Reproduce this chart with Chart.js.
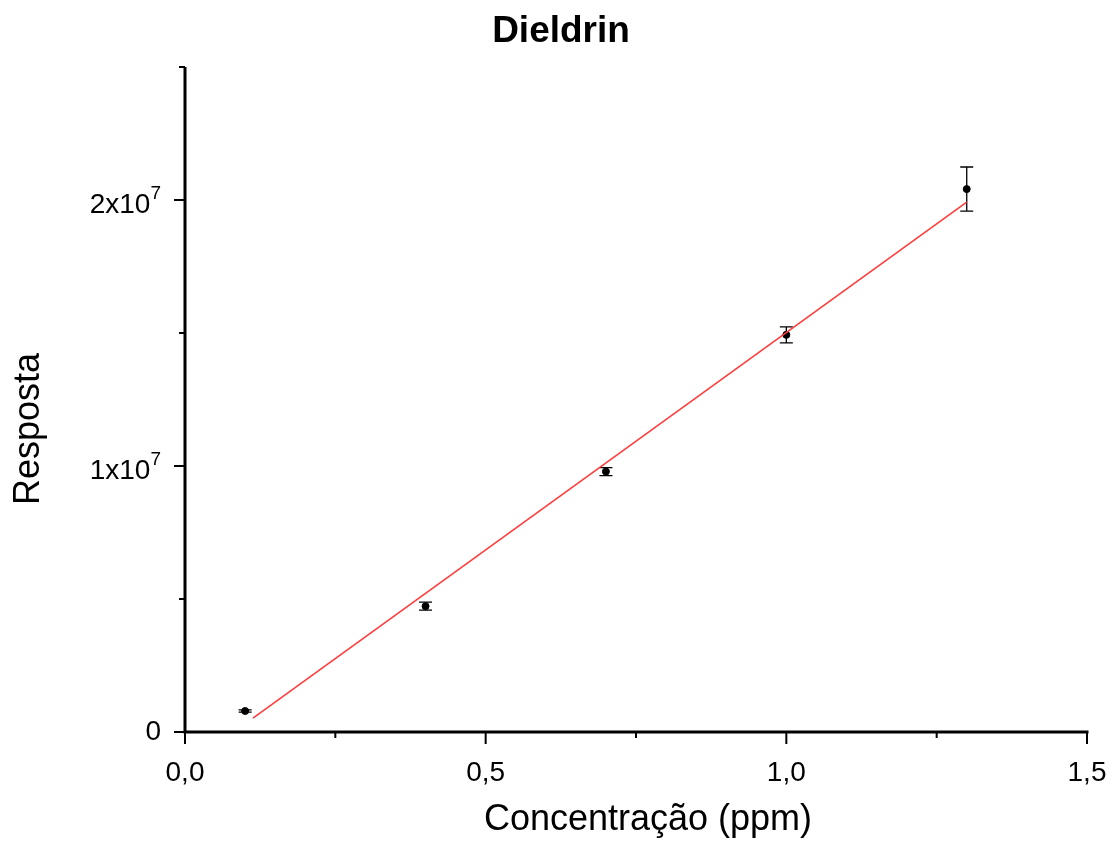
<!DOCTYPE html>
<html>
<head>
<meta charset="utf-8">
<script src="https://cdn.jsdelivr.net/npm/chart.js@4"></script>
<style>
  html, body { margin: 0; padding: 0; background: #fff; }
  #wrap { width: 1111px; height: 843px; }
</style>
</head>
<body>
<div id="wrap"><canvas id="c" width="1111" height="843"></canvas></div>
<script>
// measured points (ppm vs response)
const conc = [0.1, 0.4, 0.7, 1.0, 1.3]
const resp = [7.9e5, 4.73e6, 9.79e6, 1.493e7, 2.041e7]
const respErr = [4e4, 1.5e5, 1.5e5, 3e5, 8.3e5]

// linear fit line ends
const fitX = [0.113, 1.3]
const fitY = [5.2e5, 1.992e7]

const xTicks = [0, 0.5, 1.0, 1.5]
const xMinor = [0.25, 0.75, 1.25]
const yTicks = [0, 1e7, 2e7]
const yMinor = [5e6, 1.5e7, 2.5e7]

const font = "'Liberation Sans', Arial, sans-serif"

const fmtX = (v) => v.toFixed(1).replace('.', ',')

// draws axes, ticks, labels, error bars, titles
const decor = {
  id: 'decor',
  beforeDatasetsDraw(chart) {
    const ctx = chart.ctx
    const x = chart.scales.x, y = chart.scales.y
    ctx.save()
    ctx.strokeStyle = '#000'
    ctx.lineWidth = 1.3
    conc.forEach((c, i) => {
      const px = x.getPixelForValue(c)
      const top = y.getPixelForValue(resp[i] + respErr[i])
      const bot = y.getPixelForValue(resp[i] - respErr[i])
      ctx.beginPath()
      ctx.moveTo(px, top); ctx.lineTo(px, bot)
      ctx.moveTo(px - 6.5, top); ctx.lineTo(px + 6.5, top)
      ctx.moveTo(px - 6.5, bot); ctx.lineTo(px + 6.5, bot)
      ctx.stroke()
    })
    ctx.restore()
  },
  afterDraw(chart) {
    const ctx = chart.ctx
    const a = chart.chartArea
    const x = chart.scales.x, y = chart.scales.y
    ctx.save()
    ctx.strokeStyle = '#000'
    ctx.fillStyle = '#000'
    ctx.lineWidth = 3
    ctx.lineCap = 'butt'
    // axis lines
    ctx.beginPath()
    ctx.moveTo(a.left, a.top); ctx.lineTo(a.left, a.bottom + 1.5)
    ctx.moveTo(a.left - 1.5, a.bottom); ctx.lineTo(a.right + 1.5, a.bottom)
    ctx.stroke()
    // ticks
    ctx.lineWidth = 2
    ctx.beginPath()
    xTicks.forEach(v => {
      const px = x.getPixelForValue(v)
      ctx.moveTo(px, a.bottom); ctx.lineTo(px, a.bottom + 12)
    })
    xMinor.forEach(v => {
      const px = x.getPixelForValue(v)
      ctx.moveTo(px, a.bottom); ctx.lineTo(px, a.bottom + 6)
    })
    yTicks.forEach(v => {
      const py = y.getPixelForValue(v)
      ctx.moveTo(a.left, py); ctx.lineTo(a.left - 11, py)
    })
    yMinor.forEach(v => {
      const py = y.getPixelForValue(v)
      ctx.moveTo(a.left, py); ctx.lineTo(a.left - 6, py)
    })
    ctx.stroke()

    // x tick labels
    ctx.font = '28px ' + font
    ctx.textAlign = 'center'
    ctx.textBaseline = 'middle'
    xTicks.forEach(v => {
      ctx.fillText(fmtX(v), x.getPixelForValue(v), a.bottom + 41)
    })

    // y tick labels with superscript exponent
    yTicks.forEach(v => {
      const py = y.getPixelForValue(v)
      const right = a.left - 25
      if (v === 0) {
        ctx.font = '28px ' + font
        ctx.textAlign = 'right'
        ctx.textBaseline = 'middle'
        ctx.fillText('0', right + 1, py)
        return
      }
      const mant = String(Math.round(v / 1e7)) + 'x10'
      ctx.font = '19px ' + font
      const ew = ctx.measureText('7').width
      ctx.textAlign = 'left'
      ctx.textBaseline = 'middle'
      ctx.fillText('7', right - ew + 1, py - 6)
      ctx.font = '28px ' + font
      ctx.textAlign = 'right'
      ctx.fillText(mant, right - ew + 1, py + 5)
    })

    // axis titles
    ctx.font = '36px ' + font
    ctx.textAlign = 'center'
    ctx.textBaseline = 'middle'
    ctx.fillText('Concentração (ppm)', 648, 820)
    ctx.save()
    ctx.translate(29, 429)
    ctx.rotate(-Math.PI / 2)
    ctx.fillText('Resposta', 0, 0)
    ctx.restore()

    // title
    ctx.font = 'bold 37px ' + font
    ctx.fillText('Dieldrin', 561, 32)
    ctx.restore()
  }
}

new Chart(document.getElementById('c'), {
  type: 'scatter',
  data: {
    datasets: [
      {
        label: 'fit',
        type: 'line',
        data: fitX.map((v, i) => ({ x: v, y: fitY[i] })),
        borderColor: '#ff3b3b',
        borderWidth: 1.6,
        pointRadius: 0,
        fill: false
      },
      {
        label: 'Dieldrin',
        data: conc.map((v, i) => ({ x: v, y: resp[i] })),
        backgroundColor: '#000',
        borderColor: '#000',
        pointRadius: 3.5,
        pointHoverRadius: 3.5
      }
    ]
  },
  options: {
    responsive: false,
    animation: false,
    events: [],
    layout: { padding: { left: 0, right: 24, top: 67, bottom: 0 } },
    plugins: {
      legend: { display: false },
      title: { display: false },
      tooltip: { enabled: false }
    },
    scales: {
      x: {
        type: 'linear',
        min: 0,
        max: 1.5,
        grid: { display: false },
        border: { display: false },
        ticks: { display: false },
        afterFit: (s) => { s.height = 111 }
      },
      y: {
        type: 'linear',
        min: 0,
        max: 2.5e7,
        grid: { display: false },
        border: { display: false },
        ticks: { display: false },
        afterFit: (s) => { s.width = 185 }
      }
    }
  },
  plugins: [decor]
})
</script>
</body>
</html>
